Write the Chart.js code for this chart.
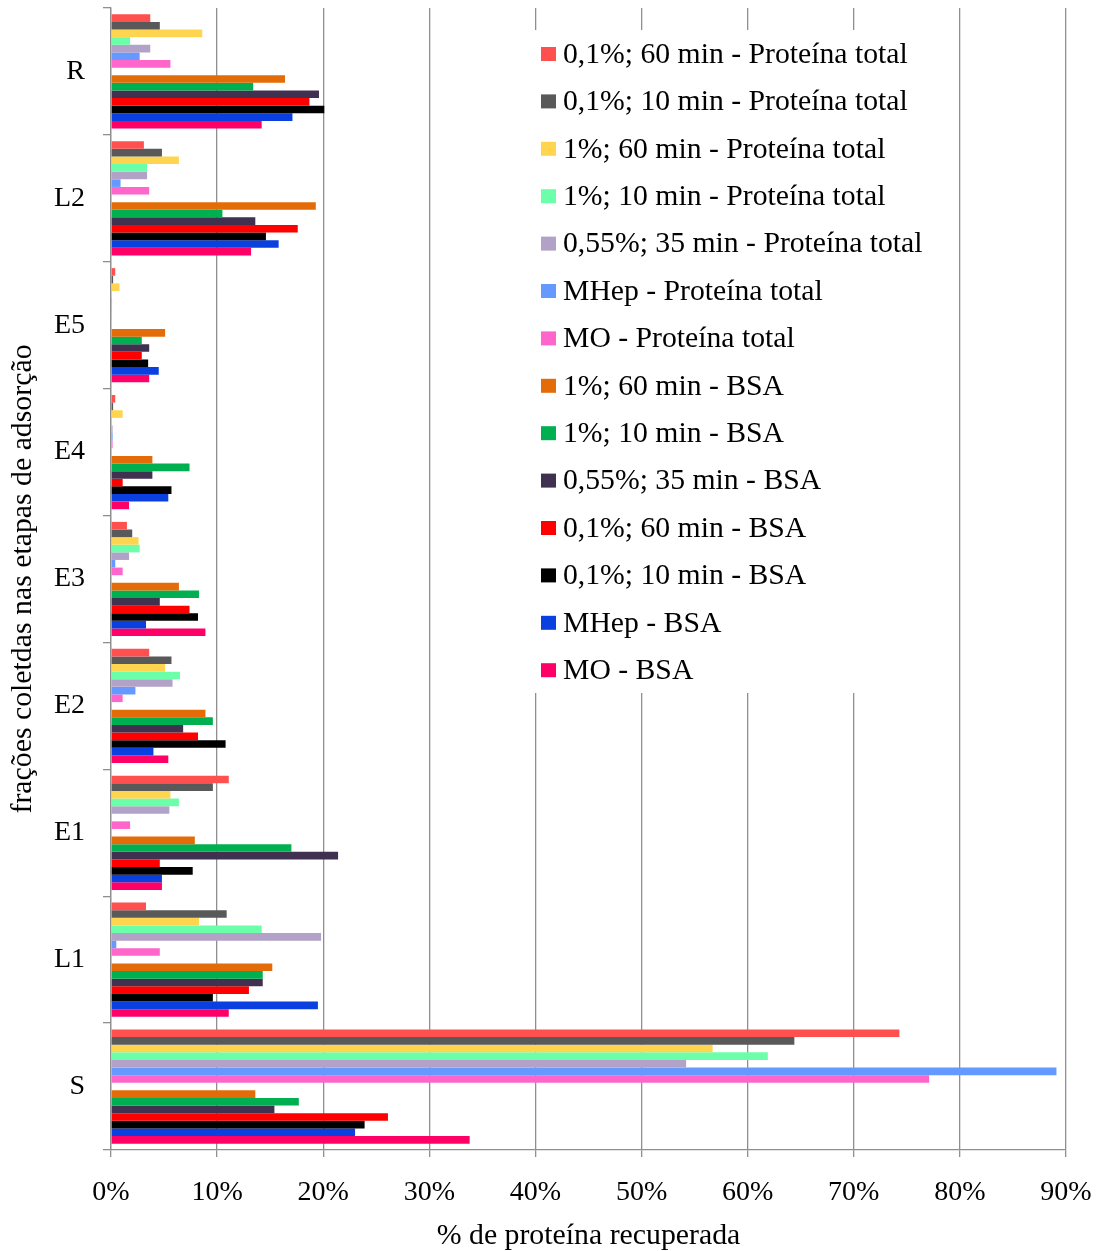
<!DOCTYPE html>
<html>
<head>
<meta charset="utf-8">
<script src="https://cdn.jsdelivr.net/npm/chart.js@4.4.1/dist/chart.umd.min.js"></script>
<style>
  body { margin: 0; background: #fff; }
</style>
</head>
<body>
<canvas id="grafico" width="1100" height="1251"></canvas>
<script>
// frações (de cima para baixo)
const categorias = ['R', 'L2', 'E5', 'E4', 'E3', 'E2', 'E1', 'L1', 'S'];

// % de proteína recuperada, na ordem das frações
const pt_01_60  = [3.7, 3.1, 0.4, 0.4, 1.5, 3.6, 11.1, 3.3, 74.3];
const pt_01_10  = [4.6, 4.8, 0.2, 0.2, 2.0, 5.7, 9.6, 10.9, 64.4];
const pt_1_60   = [8.6, 6.4, 0.8, 1.1, 2.6, 5.1, 5.6, 8.3, 56.7];
const pt_1_10   = [1.8, 3.4, 0.05, 0.05, 2.7, 6.5, 6.4, 14.2, 61.9];
const pt_055_35 = [3.7, 3.4, 0.1, 0.15, 1.7, 5.8, 5.5, 19.8, 54.2];
const pt_mhep   = [2.7, 0.9, 0.05, 0.15, 0.4, 2.3, 0, 0.5, 89.1];
const pt_mo     = [5.6, 3.6, 0.05, 0.15, 1.1, 1.1, 1.8, 4.6, 77.1];
const bsa_1_60   = [16.4, 19.3, 5.1, 3.9, 6.4, 8.9, 7.9, 15.2, 13.6];
const bsa_1_10   = [13.4, 10.5, 2.9, 7.4, 8.3, 9.6, 17.0, 14.3, 17.7];
const bsa_055_35 = [19.6, 13.6, 3.6, 3.9, 4.6, 6.8, 21.4, 14.3, 15.4];
const bsa_01_60  = [18.7, 17.6, 2.9, 1.1, 7.4, 8.2, 4.6, 13.0, 26.1];
const bsa_01_10  = [20.1, 14.6, 3.5, 5.7, 8.2, 10.8, 7.7, 9.6, 23.9];
const bsa_mhep   = [17.1, 15.8, 4.5, 5.4, 3.3, 4.0, 4.8, 19.5, 23.0];
const bsa_mo     = [14.2, 13.2, 3.6, 1.7, 8.9, 5.4, 4.8, 11.1, 33.8];
// série vazia que deixa o espaço entre os dois blocos
const vazio = [null, null, null, null, null, null, null, null, null];

const ticksX = [0, 10, 20, 30, 40, 50, 60, 70, 80, 90];

const series = [
  { label: '0,1%; 60 min - Proteína total', data: pt_01_60, cor: '#FF5050' },
  { label: '0,1%; 10 min - Proteína total', data: pt_01_10, cor: '#595959' },
  { label: '1%; 60 min - Proteína total', data: pt_1_60, cor: '#FFD550' },
  { label: '1%; 10 min - Proteína total', data: pt_1_10, cor: '#6BFFAA' },
  { label: '0,55%; 35 min - Proteína total', data: pt_055_35, cor: '#B3A2C7' },
  { label: 'MHep - Proteína total', data: pt_mhep, cor: '#6699FF' },
  { label: 'MO - Proteína total', data: pt_mo, cor: '#FF66CC' },
  { label: '', data: vazio, cor: 'rgba(0,0,0,0)' },
  { label: '1%; 60 min - BSA', data: bsa_1_60, cor: '#E36C09' },
  { label: '1%; 10 min - BSA', data: bsa_1_10, cor: '#00B050' },
  { label: '0,55%; 35 min - BSA', data: bsa_055_35, cor: '#403151' },
  { label: '0,1%; 60 min - BSA', data: bsa_01_60, cor: '#FF0000' },
  { label: '0,1%; 10 min - BSA', data: bsa_01_10, cor: '#000000' },
  { label: 'MHep - BSA', data: bsa_mhep, cor: '#0A3FE0' },
  { label: 'MO - BSA', data: bsa_mo, cor: '#FF0066' }
];

const fonte = '"Liberation Serif", "Times New Roman", serif';
const cinza = '#8f8f8f';

// legenda dentro da área do gráfico, com fundo branco
const legendaInterna = {
  id: 'legendaInterna',
  afterDraw(chart) {
    const ctx = chart.ctx;
    ctx.save();
    ctx.fillStyle = '#fff';
    ctx.fillRect(529, 30, 410, 663);
    ctx.font = '29.7px ' + fonte;
    ctx.textBaseline = 'middle';
    let i = 0;
    chart.data.datasets.forEach(ds => {
      if (!ds.label) return;
      const y = 54 + i * 47.4;
      ctx.fillStyle = ds.backgroundColor;
      ctx.fillRect(541, y - 7, 15, 14);
      ctx.fillStyle = '#000';
      ctx.fillText(ds.label, 563, y + 1);
      i++;
    });
    ctx.restore();
  }
};

new Chart(document.getElementById('grafico').getContext('2d'), {
  type: 'bar',
  data: {
    labels: categorias,
    datasets: series.map(s => ({
      label: s.label,
      data: s.data,
      backgroundColor: s.cor,
      borderWidth: 0,
      categoryPercentage: 0.9,
      barPercentage: 1.0
    }))
  },
  options: {
    indexAxis: 'y',
    responsive: false,
    animation: false,
    layout: { padding: { top: 8, right: 34, bottom: 0, left: 0 } },
    plugins: {
      legend: { display: false },
      tooltip: { enabled: false }
    },
    scales: {
      x: {
        min: 0,
        max: 90,
        afterFit: s => { s.height = 101; s.paddingLeft = 0; s.paddingRight = 0; },
        afterBuildTicks: s => { s.ticks = ticksX.map(v => ({ value: v })); },
        grid: { color: cinza, lineWidth: 1.3, tickLength: 7 },
        border: { color: cinza, width: 1.3 },
        ticks: {
          padding: 19,
          color: '#000',
          font: { family: fonte, size: 28 },
          callback: v => v + '%'
        },
        title: {
          display: true,
          text: '% de proteína recuperada',
          color: '#000',
          font: { family: fonte, size: 29.8, lineHeight: 1 },
          padding: { top: 0, bottom: 0 }
        }
      },
      y: {
        afterFit: s => { s.width = 111; s.paddingTop = 0; s.paddingBottom = 0; },
        grid: { drawOnChartArea: false, offset: true, color: cinza, lineWidth: 1.3, tickLength: 8 },
        border: { color: cinza, width: 1.3 },
        ticks: {
          padding: 18,
          color: '#000',
          font: { family: fonte, size: 28 }
        },
        title: {
          display: true,
          text: 'frações coletdas nas etapas de adsorção',
          color: '#000',
          font: { family: fonte, size: 29.8, lineHeight: 1 },
          padding: { top: 8, bottom: 0 }
        }
      }
    }
  },
  plugins: [legendaInterna]
});
</script>
</body>
</html>
